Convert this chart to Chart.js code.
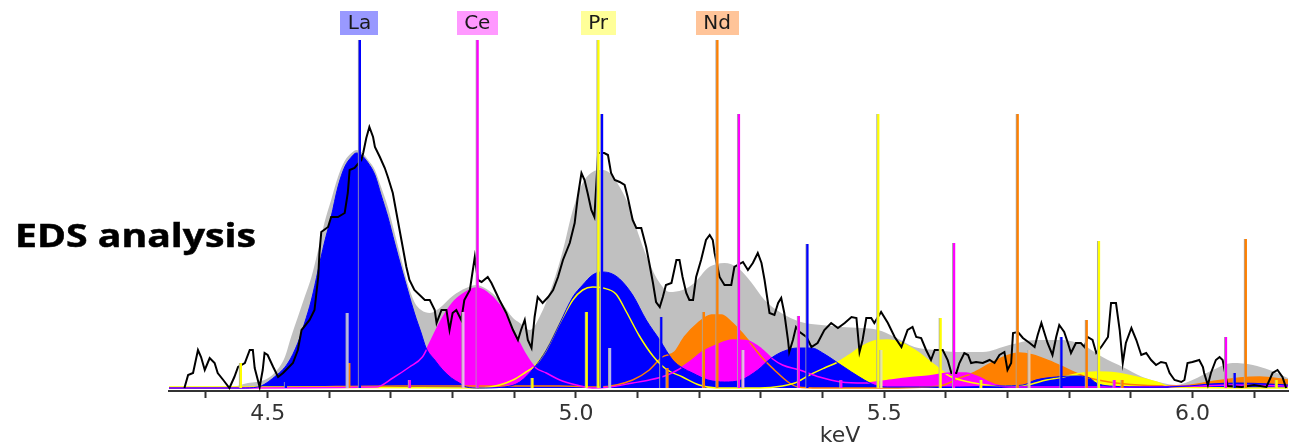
<!DOCTYPE html>
<html>
<head>
<meta charset="utf-8">
<script src="https://cdn.jsdelivr.net/npm/chart.js@4.4.1/dist/chart.umd.min.js"></script>
<style>
html,body{margin:0;padding:0;background:#fff;}
#wrap{position:relative;width:1291px;height:446px;overflow:hidden;}
#c{position:absolute;left:0;top:0;}
#title{position:absolute;left:15px;top:219px;font:700 32px/1 "Open Sans",sans-serif;color:#000;white-space:nowrap;transform-origin:0 0;-webkit-text-stroke:0.5px #000;}
#unit{position:absolute;left:840px;top:424px;font:22px/1 "DejaVu Sans",sans-serif;color:#333;white-space:nowrap;transform:translateX(-50%);}
</style>
</head>
<body>
<div id="wrap">
<canvas id="c" width="1291" height="446"></canvas>
<div id="title">EDS analysis</div>
<div id="unit">keV</div>
</div>
<script>
// ---------- axis ticks ----------
const xTickValues = [4.4,4.5,4.6,4.7,4.8,4.9,5.0,5.1,5.2,5.3,5.4,5.5,5.6,5.7,5.8,5.9,6.0,6.1];
const xTickLabels = ['','4.5','','','','','5.0','','','','','5.5','','','','','6.0',''];

// ---------- measured spectrum (black) ----------
const specKeV = [4.365,4.371,4.379,4.387,4.392,4.398,4.406,4.414,4.419,4.428,4.438,4.446,4.452,4.463,4.471,4.476,4.479,4.487,4.492,4.495,4.500,4.509,4.517,4.525,4.533,4.541,4.549,4.555,4.568,4.576,4.582,4.584,4.587,4.598,4.603,4.614,4.625,4.630,4.633,4.641,4.652,4.655,4.660,4.665,4.671,4.674,4.682,4.690,4.695,4.703,4.711,4.717,4.725,4.730,4.738,4.755,4.763,4.771,4.774,4.782,4.790,4.795,4.800,4.806,4.814,4.819,4.828,4.836,4.841,4.847,4.857,4.863,4.876,4.887,4.898,4.906,4.911,4.917,4.922,4.928,4.933,4.938,4.946,4.955,4.963,4.971,4.979,4.990,4.998,5.003,5.009,5.014,5.019,5.025,5.030,5.036,5.041,5.046,5.052,5.057,5.063,5.071,5.079,5.084,5.092,5.098,5.106,5.114,5.119,5.125,5.130,5.136,5.141,5.146,5.155,5.163,5.168,5.173,5.179,5.184,5.190,5.195,5.203,5.211,5.217,5.222,5.225,5.233,5.241,5.252,5.257,5.271,5.279,5.287,5.295,5.301,5.306,5.314,5.322,5.328,5.333,5.338,5.344,5.346,5.352,5.357,5.363,5.374,5.382,5.392,5.403,5.414,5.425,5.436,5.447,5.455,5.460,5.465,5.471,5.479,5.484,5.495,5.506,5.517,5.528,5.538,5.546,5.552,5.560,5.568,5.576,5.582,5.595,5.603,5.609,5.617,5.622,5.630,5.636,5.641,5.649,5.660,5.671,5.679,5.687,5.695,5.700,5.706,5.709,5.717,5.725,5.736,5.744,5.749,5.755,5.760,5.765,5.773,5.779,5.784,5.792,5.798,5.803,5.811,5.819,5.825,5.830,5.838,5.844,5.852,5.863,5.868,5.876,5.882,5.887,5.892,5.901,5.909,5.917,5.925,5.933,5.941,5.949,5.957,5.963,5.971,5.982,5.987,5.992,6.000,6.011,6.017,6.019,6.025,6.030,6.038,6.044,6.049,6.057,6.080,6.100,6.120,6.130,6.138,6.146,6.152];
const specCounts = [0,13,15,38,31,18,30,25,15,8,0,11,21,25,38,38,20,1,18,35,33,21,11,15,20,25,38,58,68,78,111,135,156,161,171,171,175,195,218,220,228,235,250,261,251,241,231,220,211,195,168,148,121,108,98,88,88,78,65,78,78,58,75,78,68,88,98,131,108,106,111,105,88,75,58,48,58,68,48,40,71,91,85,91,98,111,128,145,165,191,215,208,195,178,171,235,235,235,233,215,208,206,203,191,168,160,160,141,125,105,86,81,91,103,105,128,128,111,95,88,88,111,128,148,153,148,135,111,103,103,121,126,118,125,135,125,108,75,73,85,90,75,48,36,48,61,56,51,41,45,58,65,60,65,71,70,36,48,70,70,65,76,65,51,41,58,61,51,50,38,28,38,38,28,15,15,25,35,33,25,26,25,28,25,33,36,18,25,55,56,50,45,41,53,65,55,45,33,51,63,56,45,35,45,45,41,51,48,35,41,51,85,85,58,25,45,60,48,33,35,28,23,26,25,15,8,6,8,25,26,28,21,15,3,15,28,31,28,2,1,3,1,15,18,11,0];

// ---------- total fit (grey) ----------
const totalKeV = [4.340,4.441,4.468,4.495,4.511,4.528,4.538,4.549,4.560,4.571,4.582,4.592,4.603,4.614,4.625,4.636,4.644,4.652,4.663,4.674,4.684,4.695,4.706,4.717,4.728,4.738,4.749,4.763,4.779,4.800,4.822,4.838,4.855,4.876,4.898,4.909,4.925,4.941,4.963,4.979,4.995,5.011,5.027,5.041,5.055,5.071,5.087,5.103,5.119,5.136,5.152,5.173,5.192,5.214,5.228,5.241,5.263,5.284,5.306,5.333,5.365,5.398,5.430,5.463,5.490,5.517,5.549,5.582,5.617,5.660,5.703,5.746,5.790,5.822,5.854,5.887,5.919,5.952,5.974,6.000,6.033,6.065,6.098,6.125,6.155];
const totalFit = [0,1,5,8,15,31,51,71,91,111,138,165,188,211,227,235,238,236,228,218,201,181,155,128,103,86,78,75,80,92,100,103,99,88,70,65,58,71,105,138,178,205,216,218,215,201,181,151,125,105,96,98,105,120,124,125,120,106,88,75,66,63,61,60,58,51,41,38,36,36,43,48,48,43,31,21,11,5,3,8,18,25,23,18,10];

// ---------- element fits ----------
const laKeV = [4.340,4.457,4.484,4.511,4.533,4.549,4.560,4.571,4.582,4.592,4.603,4.614,4.625,4.636,4.644,4.652,4.663,4.674,4.684,4.695,4.706,4.717,4.728,4.738,4.749,4.757,4.771,4.784,4.798,4.811,4.822,4.844,4.884,4.909,4.933,4.952,4.974,4.995,5.011,5.027,5.041,5.055,5.071,5.092,5.114,5.136,5.157,5.173,5.189,5.214,5.241,5.268,5.295,5.317,5.338,5.360,5.382,5.403,5.425,5.447,5.468,5.484,5.505,5.557,5.622,5.687,5.725,5.746,5.779,5.811,5.833,5.844,5.865,5.930,5.995,6.028,6.076,6.125,6.155];
const laFit = [0,0,1,11,25,45,65,88,118,145,171,201,221,231,235,233,225,213,193,171,145,120,96,75,55,40,28,18,10,5,1,0,1,6,21,38,65,91,103,113,116,115,109,93,68,48,28,20,15,8,6,8,18,30,37,40,40,34,25,16,8,3,1,1,1,2,3,8,11,12,10,5,2,1,2,4,5,4,3];

const ceKeV = [4.340,4.676,4.703,4.730,4.751,4.763,4.779,4.800,4.822,4.838,4.855,4.876,4.898,4.919,4.933,4.952,4.974,5.001,5.027,5.055,5.092,5.119,5.144,5.165,5.184,5.205,5.228,5.254,5.279,5.301,5.317,5.335,5.363,5.395,5.430,5.468,5.500,5.538,5.573,5.606,5.633,5.649,5.682,5.703,5.849,6.011,6.060,6.155];
const ceFit = [0,1,10,21,31,45,65,85,96,100,96,83,58,33,21,15,8,3,0,1,5,8,12,18,26,36,43,48,47,39,30,23,18,11,6,5,7,10,12,15,15,12,3,1,1,2,3,2];

const prKeV = [4.340,4.438,4.844,4.876,4.898,4.919,4.933,4.952,4.974,4.995,5.011,5.027,5.044,5.065,5.082,5.103,5.125,5.146,5.173,5.200,5.228,5.298,5.335,5.355,5.379,5.403,5.425,5.441,5.463,5.484,5.506,5.528,5.549,5.571,5.590,5.606,5.630,5.655,5.687,5.730,5.763,5.790,5.811,5.844,5.876,5.909,5.941,5.967,6.155];
const prFit = [1,1,0,3,8,16,22,38,65,88,98,101,100,94,76,52,32,19,11,3,0,0,2,5,13,20,26,32,41,47,48,45,38,28,19,12,7,4,2,3,8,11,14,16,15,11,6,1,0];

const ndKeV = [4.340,4.552,4.714,4.973,5.038,5.092,5.119,5.140,5.160,5.176,5.198,5.220,5.236,5.252,5.268,5.279,5.301,5.322,5.344,5.360,5.395,5.492,5.590,5.622,5.644,5.671,5.698,5.719,5.741,5.768,5.790,5.811,5.833,5.865,5.914,5.979,6.028,6.076,6.109,6.155];
const ndFit = [0,1,2,2,1,8,18,31,36,51,65,73,73,66,56,48,31,18,6,1,0,0,2,10,15,24,32,35,33,27,21,15,10,6,3,2,6,10,11,8];

// ---------- X-ray line markers ----------
const laLineKeV = [4.529,4.649,5.042,5.138,5.375,5.787,6.068];
const laLineHeight = [6,348,274,71,144,51,15];
const ceLineKeV = [4.730,4.840,5.264,5.361,5.430,5.613,5.873,6.054];
const ceLineHeight = [8,348,274,72,8,145,8,51];
const prLineKeV = [4.456,4.929,5.017,5.036,5.490,5.591,5.657,5.848,6.136];
const prLineHeight = [25,10,76,348,274,70,8,147,8];
const ndLineKeV = [4.632,5.148,5.207,5.229,5.716,5.828,5.886,6.086];
const ndLineHeight = [25,20,76,348,274,68,8,149];
const faintLineKeV = [4.629,4.817,5.055,5.271,5.495,5.735];
const faintLineHeight = [75,76,40,38,38,38];
const faintLineElement = ['La','Ce','La','Ce','Pr','Nd'];

// ---------- element labels ----------
const elementNames = ['La','Ce','Pr','Nd'];
const elementLabelKeV = [4.649,4.840,5.036,5.229];

// ---------- styles ----------
const C = {La:'#0000ff', Ce:'#ff00ff', Pr:'#ffff00', Nd:'#ff8000'};
const faintC = {La:'#b8b8e8', Ce:'#e8b8e8', Pr:'#e8e8a0', Nd:'#e8c8a8'};
const boxC = {La:'#9999ff', Ce:'#ff99ff', Pr:'#ffff99', Nd:'#ffc499'};

const pts = (xs, ys) => xs.map((x, i) => ({x: x, y: ys[i]}));

const markerData = [], markerColors = [];
[[laLineKeV, laLineHeight, 'La'], [ceLineKeV, ceLineHeight, 'Ce'], [prLineKeV, prLineHeight, 'Pr'], [ndLineKeV, ndLineHeight, 'Nd']].forEach(([ks, hs, el]) => {
  ks.forEach((k, i) => { markerData.push({x: k, y: hs[i]}); markerColors.push(C[el]); });
});
faintLineKeV.forEach((k, i) => { markerData.push({x: k, y: faintLineHeight[i]}); markerColors.push(faintC[faintLineElement[i]]); });

function fillSet(label, xs, ys, color, order) {
  return {type:'line', label, data: pts(xs, ys), backgroundColor: color, borderWidth: 0, borderColor: color,
    fill: 'origin', pointRadius: 0, cubicInterpolationMode: 'monotone', order};
}
function lineSet(label, xs, ys, color, order, w) {
  return {type:'line', label, data: pts(xs, ys), borderColor: color, borderWidth: w, fill: false,
    pointRadius: 0, cubicInterpolationMode: 'monotone', order};
}

const labelPlugin = {
  id: 'elementLabels',
  afterDraw(chart) {
    const ctx = chart.ctx, xs = chart.scales.x;
    ctx.save();
    ctx.font = '20px "DejaVu Sans"';
    ctx.textAlign = 'center';
    ctx.textBaseline = 'middle';
    elementNames.forEach((n, i) => {
      const x = xs.getPixelForValue(elementLabelKeV[i]);
      const w = ctx.measureText(n).width + 15;
      ctx.fillStyle = boxC[n];
      ctx.fillRect(Math.round(x - w / 2), 11, Math.round(w), 24);
      ctx.fillStyle = '#1a1a1a';
      ctx.fillText(n, x, 24);
    });
    ctx.restore();
  }
};

new Chart(document.getElementById('c'), {
  type: 'line',
  data: {
    datasets: [
      fillSet('Total fit', totalKeV, totalFit, '#c0c0c0', 20),
      fillSet('Nd', ndKeV, ndFit, C.Nd, 19),
      fillSet('Pr', prKeV, prFit, C.Pr, 18),
      fillSet('Ce', ceKeV, ceFit, C.Ce, 17),
      fillSet('La', laKeV, laFit, C.La, 16),
      lineSet('Nd curve', ndKeV, ndFit, C.Nd, 15, 1.5),
      lineSet('Pr curve', prKeV, prFit, C.Pr, 14, 1.5),
      lineSet('Ce curve', ceKeV, ceFit, C.Ce, 13, 1.5),
      lineSet('La curve', laKeV, laFit, C.La, 12, 1),
      {type:'line', label:'Spectrum', data: pts(specKeV, specCounts), borderColor:'#000', borderWidth: 2,
        fill:false, pointRadius:0, tension:0, order: 11},
      {type:'bar', label:'Lines', data: markerData, backgroundColor: markerColors, borderColor:'#a8a8a8',
        borderWidth:{left:1, right:0, top:0, bottom:0}, borderSkipped:false, barThickness:3, grouped:false, order: 10}
    ]
  },
  options: {
    responsive: false,
    animation: false,
    devicePixelRatio: 1,
    layout: {padding: {left: 169, right: 3, top: 40, bottom: 0}},
    plugins: {legend: {display: false}, tooltip: {enabled: false}, title: {display: false}},
    scales: {
      x: {
        type: 'linear', min: 4.34, max: 6.155, offset: false,
        afterBuildTicks: (s) => { s.ticks = xTickValues.map(v => ({value: v})); },
        afterFit: (s) => { s.height = 55; },
        ticks: {
          autoSkip: false, maxRotation: 0, padding: 3, color: '#333',
          font: {family: '"DejaVu Sans"', size: 22},
          callback: (v) => { const i = xTickValues.findIndex(t => Math.abs(t - v) < 1e-6); return i >= 0 ? xTickLabels[i] : ''; }
        },
        grid: {offset: false, drawOnChartArea: false, drawTicks: true, tickLength: 7, tickWidth: 2, tickColor: '#333'},
        border: {display: true, color: '#333', width: 2}
      },
      y: {type: 'linear', min: -3, max: 348, display: false}
    }
  },
  plugins: [labelPlugin]
});

const t = document.getElementById('title');
const tw = t.getBoundingClientRect().width;
t.style.transform = 'scaleX(' + (241 / tw) + ')';
</script>
</body>
</html>
